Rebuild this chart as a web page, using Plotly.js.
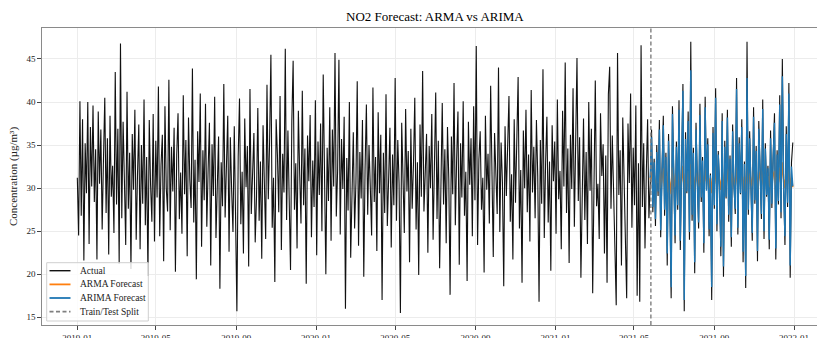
<!DOCTYPE html>
<html>
<head>
<meta charset="utf-8">
<script src="https://cdn.plot.ly/plotly-3.0.1.min.js"></script>
<style>html,body{margin:0;padding:0;background:#fff;}#chart{width:817px;height:338px;}</style>
</head>
<body>
<div id="chart"></div>
<script>
// ---- data (one point every 2 days) ----
const startDate = '2019-01-01';
const stepDays = 2;
const splitDate = '2021-05-27';

const actualTrain = [
31.2,24.5,40.1,26.8,38.0,21.6,35.2,29.4,40.0,23.5,37.1,30.2,39.6,28.4,34.5,21.7,38.9,30.5,36.8,25.2,
33.4,40.5,27.1,35.8,22.3,38.4,29.0,32.6,24.8,43.5,28.1,36.9,21.2,46.8,26.5,37.7,30.9,23.4,41.2,27.6,
34.1,20.6,36.3,29.8,39.1,24.0,31.5,37.4,22.9,35.0,28.2,40.3,25.7,33.6,19.8,37.9,30.4,26.1,38.6,23.8,
35.5,28.9,41.8,24.4,32.7,36.2,21.5,39.5,30.0,27.3,42.6,25.1,34.8,29.6,37.0,20.3,33.9,38.7,26.4,31.8,
24.7,40.8,29.3,35.6,22.1,38.2,31.0,27.7,43.9,26.0,33.3,19.4,36.6,30.7,41.0,23.2,34.4,28.6,39.8,25.5,
32.2,37.6,21.0,35.1,29.1,40.6,24.2,30.8,36.0,18.3,33.0,27.9,42.1,26.6,31.4,38.4,22.6,35.9,29.7,24.9,
37.2,28.3,15.7,33.7,40.4,25.8,31.9,22.4,38.1,30.1,34.9,20.9,41.5,27.0,32.5,36.4,23.7,29.0,39.3,26.2,
33.1,21.8,37.3,30.6,24.1,42.0,28.7,35.3,45.5,25.4,31.2,19.1,38.0,33.8,27.2,40.7,22.8,34.0,29.5,46.2,
26.3,36.7,30.3,20.5,37.8,44.8,27.5,32.9,23.0,39.0,31.6,25.9,41.3,28.0,34.6,18.9,36.1,30.8,38.5,24.3,
33.2,27.8,40.2,22.2,35.4,29.2,37.5,25.0,43.2,31.3,20.0,34.7,28.5,39.4,23.9,36.8,30.2,45.7,26.7,32.0,
44.9,24.6,35.7,29.9,38.3,16.0,33.5,27.4,40.0,21.9,31.7,36.5,25.3,30.6,42.4,23.3,34.2,28.8,37.9,19.7,
32.4,39.7,26.9,35.0,30.1,24.5,41.7,28.4,33.6,22.7,38.8,29.4,36.2,17.0,34.1,27.1,40.9,25.6,31.0,37.0,
23.1,33.9,28.0,42.8,26.2,35.6,30.5,15.5,37.6,31.8,24.8,39.2,29.6,34.3,21.4,36.9,27.6,32.8,40.5,25.2,
33.0,19.9,37.4,29.0,43.6,27.3,31.5,36.3,22.5,34.9,30.0,38.6,24.0,32.3,41.1,26.4,35.5,20.7,30.9,39.9,
28.1,34.5,23.6,37.1,31.1,17.6,36.0,29.3,42.2,25.7,33.4,38.9,21.1,35.2,28.9,40.1,26.8,31.9,19.2,37.7,
30.4,35.8,24.4,39.5,28.6,46.5,23.4,33.3,36.6,27.5,31.2,20.2,38.4,29.8,34.0,25.9,41.9,30.3,22.0,36.4,
32.6,27.0,44.0,24.9,35.3,30.7,18.6,37.2,29.1,33.7,40.7,26.1,31.6,21.7,38.0,28.3,35.0,42.9,25.3,32.1,
19.0,36.7,30.0,39.1,27.2,33.9,23.8,41.4,29.5,34.8,26.5,37.9,31.4,16.8,35.6,28.2,43.8,24.2,32.9,38.3,
26.0,33.1,20.4,37.3,30.8,35.4,24.7,40.3,28.7,32.0,22.9,39.0,30.2,44.6,27.1,34.6,21.3,36.2,29.9,41.6,
25.5,33.5,45.1,28.5,35.9,19.6,31.3,38.1,26.3,34.2,23.5,40.0,29.7,36.9,17.8,32.7,42.5,27.9,30.5,24.1,
38.7,31.4,35.1,22.4,33.8,19.0,40.9,44.1,27.6,36.1,30.2,24.8,16.4,45.7,29.2,34.4,21.0,38.2,31.7,26.9,
17.2,37.5,30.6,41.0,25.4,34.7,28.0,39.6,17.5,32.9,16.8,46.6,27.8,35.2,23.0,31.8,38.0,26.5
];

const actualTest = [
30.5,36.8,27.2,33.4,25.6,35.0,29.1,37.9,24.3,32.2,38.4,26.8,34.1,21.0,36.3,28.7,17.2,39.5,30.9,23.6,
35.4,27.5,40.2,22.8,33.0,42.1,15.7,36.5,29.4,38.9,24.0,47.0,26.2,34.7,20.1,37.6,31.0,25.3,39.8,28.4,
33.6,22.5,40.6,29.9,35.8,24.4,31.7,17.0,37.1,27.6,41.6,25.0,34.3,30.2,22.1,38.7,19.7,35.5,28.8,39.1,
26.1,33.8,23.2,37.4,30.4,27.0,42.8,24.6,35.9,29.3,38.0,21.4,33.1,18.4,47.0,26.9,36.6,30.6,23.9,39.4,
28.2,34.9,21.5,37.8,31.2,26.4,40.3,24.1,35.2,29.0,32.6,22.9,36.7,27.7,33.9,38.7,21.7,34.4,28.1,40.8,
26.5,45.0,30.3,23.4,37.2,27.8,42.2,19.6,33.0,35.3
];

const arimaForecast = [
31.2,35.9,27.8,33.0,26.4,34.2,29.6,36.8,25.1,32.0,37.3,27.5,33.6,22.4,35.5,28.9,18.5,38.6,30.7,24.5,
34.8,28.0,39.1,23.9,32.8,41.3,17.0,35.7,29.6,37.8,24.9,43.7,26.9,34.1,21.4,36.8,30.8,26.0,38.5,28.9,
33.2,23.6,39.4,29.7,35.1,25.2,31.5,18.5,36.4,28.0,40.5,25.8,33.9,30.1,23.2,37.8,20.9,34.8,29.0,38.2,
26.9,33.4,24.3,36.6,30.3,27.6,41.5,25.4,35.2,29.4,37.1,22.6,32.8,19.8,42.8,27.5,35.8,30.4,24.8,38.3,
28.6,34.3,22.7,36.9,31.0,27.0,39.2,25.0,34.6,29.2,32.3,24.0,35.8,28.2,33.4,37.6,23.0,33.9,28.5,39.7,
27.2,43.0,30.2,24.4,36.3,28.3,41.0,21.0,32.5,30.2
];

const armaForecast = [
31.0,31.8,30.4,31.2,29.9,31.5,30.6,32.1,30.0,31.1,32.3,30.2,31.4,29.5,31.9,30.7,29.3,32.4,31.0,30.1,
31.6,30.3,32.2,29.8,31.0,32.6,29.1,31.7,30.5,32.0,29.9,32.8,30.4,31.3,29.6,31.8,30.9,30.2,32.1,30.6,
31.4,29.7,32.3,30.8,31.6,30.0,31.2,29.4,31.9,30.5,32.5,30.1,31.5,30.9,29.8,32.0,29.5,31.7,30.6,32.2,
30.3,31.4,29.9,31.8,31.0,30.4,32.4,30.1,31.6,30.8,32.0,29.7,31.3,29.6,32.7,30.5,31.7,31.0,30.2,32.1,
30.7,31.5,29.8,31.9,31.1,30.4,32.2,30.0,31.6,30.9,31.4,30.1,31.8,30.6,31.5,32.0,30.3,31.3,30.7,32.4,
30.2,33.0,31.1,30.0,31.7,30.5,32.5,29.8,31.2,30.1
];

const seriesNames = ['Actual', 'ARMA Forecast', 'ARIMA Forecast', 'Train/Test Split'];
const xTickLabels = ['2019-01','2019-05','2019-09','2020-01','2020-05','2020-09','2021-01','2021-05','2021-09','2022-01'];
const yTicks = [15,20,25,30,35,40,45];

// ---- build dates ----
function dateAt(i){
  const d = new Date(startDate + 'T00:00:00Z');
  d.setUTCDate(d.getUTCDate() + i*stepDays);
  return d.toISOString().slice(0,10);
}
const actual = actualTrain.concat(actualTest);
const xAll = actual.map((_, i) => dateAt(i));
const xTest = actualTest.map((_, i) => dateAt(actualTrain.length + i));

const yRange = [14.1, 48.6];
const FONT = 'Liberation Serif, Times New Roman, serif';
const COLORS = ['#111111', '#ff7f0e', '#1f77b4', '#7f7f7f'];

const traces = [
  {x: xAll, y: actual, type: 'scatter', mode: 'lines', name: seriesNames[0],
   line: {color: COLORS[0], width: 1.1}},
  {x: xTest, y: armaForecast, type: 'scatter', mode: 'lines', name: seriesNames[1],
   line: {color: COLORS[1], width: 1.6}},
  {x: xTest, y: arimaForecast, type: 'scatter', mode: 'lines', name: seriesNames[2],
   line: {color: COLORS[2], width: 1.4}},
  {x: [splitDate, splitDate], y: yRange, type: 'scatter', mode: 'lines', name: seriesNames[3],
   line: {color: COLORS[3], width: 1.4, dash: '4px,2.5px'}, cliponaxis: true}
];

// ---- legend drawn as shapes + annotations (compact, matplotlib-like) ----
const plotL = 42, plotW = 775, plotB = 325, plotH = 297;
const px = v => (v - plotL) / plotW;
const py = v => (plotB - v) / plotH;
const legRows = [270.7, 284.4, 298.0, 311.7];
const legDash = ['solid', 'solid', 'solid', '4px,2.5px'];
const shapes = [
  {type: 'rect', xref: 'paper', yref: 'paper', layer: 'above',
   x0: px(46.7), x1: px(148.3), y0: py(321), y1: py(262.7),
   fillcolor: 'rgba(255,255,255,0.82)', line: {color: '#cfcfcf', width: 1}}
];
const annotations = [];
seriesNames.forEach((n, k) => {
  shapes.push({type: 'line', xref: 'paper', yref: 'paper', layer: 'above',
    x0: px(49.5), x1: px(70.5), y0: py(legRows[k]), y1: py(legRows[k]),
    line: {color: COLORS[k], width: k === 0 ? 1.4 : 1.8, dash: legDash[k]}});
  annotations.push({xref: 'paper', yref: 'paper', x: px(77.5), y: py(legRows[k]),
    xanchor: 'left', yanchor: 'middle', showarrow: false, text: n,
    font: {family: FONT, size: 9.5, color: '#222'}});
});

const layout = {
  width: 817, height: 338,
  margin: {l: 42, r: 0, t: 28, b: 13},
  paper_bgcolor: '#ffffff', plot_bgcolor: '#ffffff',
  font: {family: FONT, size: 9, color: '#222'},
  showlegend: false,
  title: {text: 'NO2 Forecast: ARMA vs ARIMA', font: {family: FONT, size: 13, color: '#000'},
          xref: 'paper', x: 0.507, xanchor: 'center', yref: 'container', y: 0.95, yanchor: 'middle'},
  xaxis: {
    type: 'date', range: ['2018-11-08', '2022-02-05'],
    tickvals: xTickLabels.map(s => s + '-01'), ticktext: xTickLabels,
    ticks: 'outside', ticklen: 3.5, tickwidth: 1, tickcolor: '#444',
    showgrid: true, gridcolor: '#ececec', gridwidth: 1,
    showline: true, linecolor: '#8a8a8a', linewidth: 1.3, mirror: true,
    zeroline: false, automargin: false,
    tickfont: {family: FONT, size: 9, color: '#222'}
  },
  yaxis: {
    range: yRange, tickvals: yTicks,
    ticks: 'outside', ticklen: 3.5, tickwidth: 1, tickcolor: '#444',
    showgrid: true, gridcolor: '#ececec', gridwidth: 1,
    showline: true, linecolor: '#8a8a8a', linewidth: 1.3, mirror: false,
    zeroline: false, automargin: false,
    tickfont: {family: FONT, size: 9, color: '#222'},
    title: {text: 'Concentration (µg/m³)', font: {family: FONT, size: 11, color: '#222'}, standoff: 6}
  },
  shapes: shapes,
  annotations: annotations
};

Plotly.newPlot('chart', traces, layout, {staticPlot: true, displayModeBar: false});
</script>
</body>
</html>
